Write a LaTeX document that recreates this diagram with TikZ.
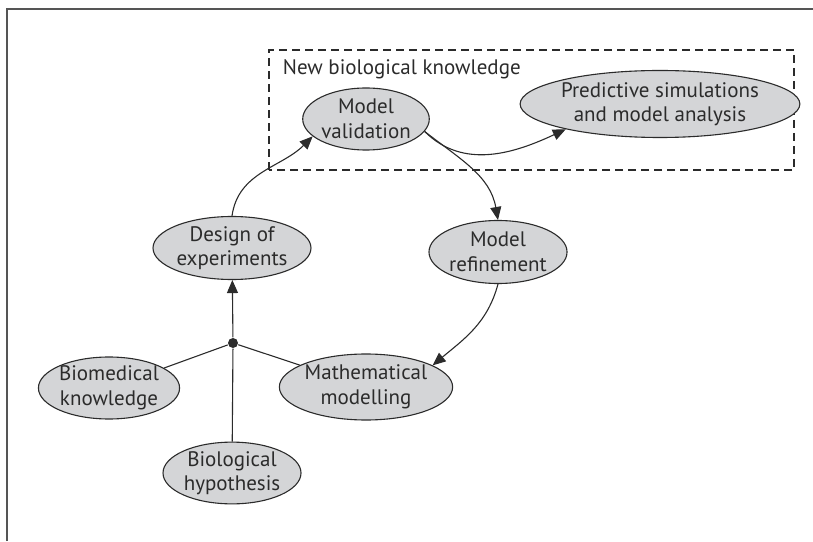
\documentclass[tikz,border=0pt]{standalone}
\usepackage{fontspec}
\setmainfont{PT Sans}
\usepackage{tikz}
\usetikzlibrary{shapes.geometric,arrows.meta}
\definecolor{bubblegray}{HTML}{D4D5D7}
\definecolor{inkgray}{HTML}{2B2B2B}

\begin{document}
\begin{tikzpicture}[x=1pt, y=1pt, line width=1.1pt, draw=inkgray,
		bubble/.style={ellipse, draw=inkgray, fill=bubblegray, inner sep=0pt, align=center, text=inkgray,
			font=\fontsize{21}{24.5}\selectfont},
		arr/.style={-{Triangle[length=13pt, width=11pt]}}]
		\useasboundingbox (0,0) rectangle (813,541);
		\draw[line width=2pt, inkgray!80] (7,0) -- (7,532) -- (813,532);
		\draw[dashed, dash pattern=on 8pt off 5pt] (269,371) rectangle (794,491);
		\node[anchor=west, text=inkgray, font=\fontsize{21}{24.5}\selectfont] (newknow) at (279,472) {New biological knowledge};

		\node[bubble, minimum width=126pt, minimum height=62pt] (valid) at (366,422) {Model\\validation};
		\node[bubble, minimum width=243pt, minimum height=67pt] (predict) at (660,437) {Predictive simulations\\and model analysis};
		\node[bubble, minimum width=158pt, minimum height=63pt] (design) at (232,293) {Design of\\experiments};
		\node[bubble, minimum width=127pt, minimum height=63pt] (refine) at (498,289) {Model\\refinement};
		\node[bubble, minimum width=140pt, minimum height=62pt] (biomed) at (109,153) {Biomedical\\knowledge};
		\node[bubble, minimum width=172pt, minimum height=66pt] (mathmod) at (366,154) {Mathematical\\modelling};
		\node[bubble, minimum width=138pt, minimum height=61pt] (hypo) at (232,68) {Biological\\hypothesis};
		\node[circle, fill=inkgray, inner sep=0pt, minimum size=10pt] (join) at (233,198) {};

		\draw[arr] (join) -- (design);
		\draw (join) -- (biomed);
		\draw (join) -- (mathmod);
		\draw (join) -- (hypo);
		\draw[arr] (design.north) to[out=82, in=225] (valid.198);
		\draw[arr] (valid.-12) to[out=-38, in=100] (refine.north);
		\draw[arr] (valid.-12) to[out=-45, in=205] (predict.195);
		\draw[arr] (refine.south) to[out=-105, in=40] (mathmod.18);
	\end{tikzpicture}
\end{document}
